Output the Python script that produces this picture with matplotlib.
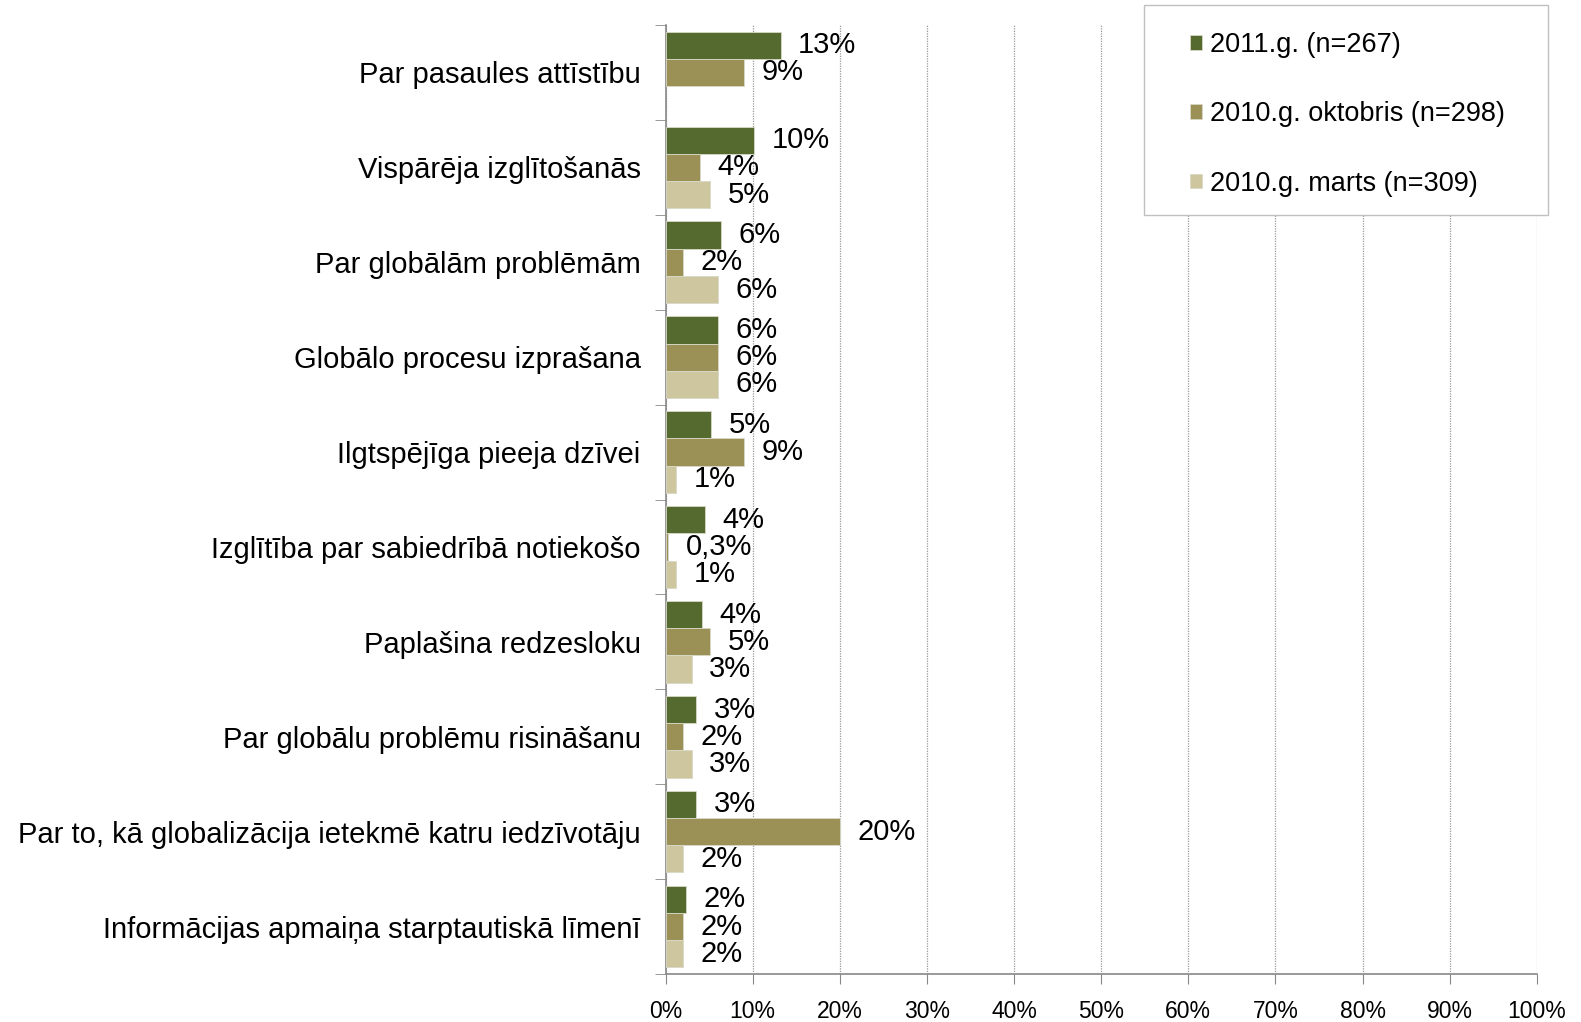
import matplotlib
matplotlib.use("Agg")
import matplotlib.pyplot as plt
import numpy as np
from matplotlib.ticker import FixedLocator, FuncFormatter
from matplotlib.patches import Rectangle

plt.rcParams['font.family'] = ['Liberation Sans', 'DejaVu Sans']

categories = [
    "Par pasaules attīstību",
    "Vispārēja izglītošanās",
    "Par globālām problēmām",
    "Globālo procesu izprašana",
    "Ilgtspējīga pieeja dzīvei",
    "Izglītība par sabiedrībā notiekošo",
    "Paplašina redzesloku",
    "Par globālu problēmu risināšanu",
    "Par to, kā globalizācija ietekmē katru iedzīvotāju",
    "Informācijas apmaiņa starptautiskā līmenī",
]
series_names = ["2011.g. (n=267)", "2010.g. oktobris (n=298)", "2010.g. marts (n=309)"]
v2011 = [13.2, 10.2, 6.4, 6.0, 5.2, 4.5, 4.2, 3.5, 3.5, 2.3]
v2010okt = [9.0, 4.0, 2.0, 6.0, 9.0, 0.3, 5.1, 2.0, 20.0, 2.0]
v2010mar = [np.nan, 5.1, 6.0, 6.0, 1.2, 1.2, 3.0, 3.0, 2.0, 2.0]
labels2011 = ["13%", "10%", "6%", "6%", "5%", "4%", "4%", "3%", "3%", "2%"]
labels2010okt = ["9%", "4%", "2%", "6%", "9%", "0,3%", "5%", "2%", "20%", "2%"]
labels2010mar = ["", "5%", "6%", "6%", "1%", "1%", "3%", "3%", "2%", "2%"]
colors = ["#556a2f", "#9b9157", "#cdc69f"]

fig = plt.figure(figsize=(15.81, 10.22), dpi=100)
ax = fig.add_axes([0.421, 0.047, 0.551, 0.9285])

n = len(categories)
y = np.arange(n)
h = 0.287
values = [v2011, v2010okt, v2010mar]
labs = [labels2011, labels2010okt, labels2010mar]
for i, (vals, lab, c, name) in enumerate(zip(values, labs, colors, series_names)):
    pos = y + (i - 1) * h
    ax.barh(pos, vals, height=h, color=c, edgecolor="#d8d8c8", linewidth=0.6, label=name, zorder=3)
    for p, v, t in zip(pos, vals, lab):
        if t and not np.isnan(v):
            ax.text(v + 2.0, p, t, va="center", ha="left", fontsize=21, color="black", zorder=4)

ax.set_xlim(0, 100)
ax.set_ylim(n - 0.5, -0.5)

ax.xaxis.set_major_locator(FixedLocator(np.arange(0, 101, 10)))
ax.xaxis.set_major_formatter(FuncFormatter(lambda v, p: f"{int(round(v))}%"))
ax.tick_params(axis="x", direction="out", length=7, color="#888888", labelsize=16.5, pad=12)
ax.grid(axis="x", color="#999999", linestyle=(0, (1, 1)), linewidth=0.9, zorder=0)

ax.set_yticks(y)
ax.set_yticklabels(categories, fontsize=21)
ax.yaxis.set_minor_locator(FixedLocator(np.arange(-0.5, n, 1.0)))
ax.tick_params(axis="y", which="major", length=0, pad=18)
ax.tick_params(axis="y", which="minor", direction="out", length=8, color="#888888")

for s in ["top", "right"]:
    ax.spines[s].set_visible(False)
for s in ["left", "bottom"]:
    ax.spines[s].set_color("#888888")
    ax.spines[s].set_linewidth(1.2)

W, H = 1581, 1022
fig.patches.append(Rectangle((1144 / W, 1 - 215 / H), (1548 - 1144) / W, (215 - 5) / H,
                             transform=fig.transFigure, facecolor="white",
                             edgecolor="#c0c0c0", linewidth=1.0, zorder=5))
leg = fig.legend(loc="upper left", bbox_to_anchor=(1190 / W, 1 - 32 / H), fontsize=19.5,
                 frameon=False, handlelength=0.45, handleheight=0.45, handletextpad=0.3,
                 labelspacing=1.6, borderpad=0, borderaxespad=0)
leg.set_zorder(6)

fig.savefig("out.png", dpi=100, facecolor="white")
